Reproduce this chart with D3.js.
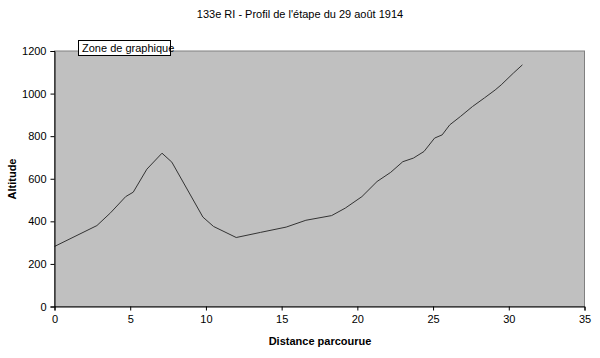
<!DOCTYPE html>
<html><head><meta charset="utf-8">
<script src="https://cdn.jsdelivr.net/npm/d3@7"></script>
<style>body{margin:0;background:#fff;}svg{display:block;font-family:Arial,"Liberation Sans",sans-serif;}</style>
</head><body><svg id="c" width="600" height="358"></svg>
<script>
const distances = [0, 2.8, 3.7, 4.7, 5.2, 6.1, 7.1, 7.75, 9.8, 10.5, 12.0, 13.6, 15.3, 16.6, 18.3, 19.2, 20.3, 21.3, 22.2, 23.0, 23.7, 24.4, 25.1, 25.6, 26.1, 26.8, 27.6, 28.4, 29.1, 29.5, 30.3, 30.9];
const altitudes = [282, 380, 440, 516, 537, 645, 720, 678, 420, 376, 324, 348, 373, 405, 427, 462, 516, 587, 630, 680, 697, 728, 791, 806, 853, 892, 939, 980, 1017, 1041, 1096, 1135];
const xTicks = [0, 5, 10, 15, 20, 25, 30, 35];
const yTicks = [0, 200, 400, 600, 800, 1000, 1200];
const title = "133e RI - Profil de l'étape du 29 août 1914";
const xLabel = "Distance parcourue";
const yLabel = "Altitude";
const tipLabel = "Zone de graphique";

const svg = d3.select("#c");
const L = 54.5, R = 584.5, T = 51, B = 306.5;
const x = d3.scaleLinear().domain([0, 35]).range([L, R]);
const y = d3.scaleLinear().domain([0, 1200]).range([B, T]);

svg.append("rect").attr("x", L).attr("y", T).attr("width", R - L).attr("height", B - T)
  .attr("fill", "#c0c0c0").attr("stroke", "#808080").attr("stroke-width", 1);

const line = d3.line().x((d, i) => x(distances[i])).y(d => y(d));
svg.append("path").datum(altitudes).attr("d", line).attr("fill", "none")
  .attr("stroke", "#333").attr("stroke-width", 1);

const xa = svg.append("g").attr("transform", `translate(0,${B})`)
  .call(d3.axisBottom(x).tickValues(xTicks).tickSize(4).tickPadding(5).tickFormat(d3.format("d")));
const ya = svg.append("g").attr("transform", `translate(${L},0)`)
  .call(d3.axisLeft(y).tickValues(yTicks).tickSize(4).tickPadding(4).tickFormat(d3.format("d")));
[xa, ya].forEach(a => {
  a.select(".domain").attr("stroke", "#000");
  a.selectAll(".tick line").attr("stroke", "#000");
  a.selectAll("text").attr("font-size", 11).attr("fill", "#000").attr("font-family", "Arial, 'Liberation Sans', sans-serif");
});

svg.append("text").attr("x", 300).attr("y", 18).attr("text-anchor", "middle")
  .attr("font-size", 11).text(title);
svg.append("text").attr("x", 320).attr("y", 345).attr("text-anchor", "middle")
  .attr("font-size", 11).attr("font-weight", "bold").text(xLabel);
svg.append("text").attr("transform", "translate(16,179) rotate(-90)").attr("text-anchor", "middle")
  .attr("font-size", 11).attr("font-weight", "bold").text(yLabel);

const tip = svg.append("g");
tip.append("rect").attr("x", 78.5).attr("y", 40.5).attr("width", 92).attr("height", 15)
  .attr("fill", "#fff").attr("stroke", "#000").attr("stroke-width", 1);
tip.append("text").attr("x", 82).attr("y", 52).attr("font-size", 11).text(tipLabel);
</script></body></html>
